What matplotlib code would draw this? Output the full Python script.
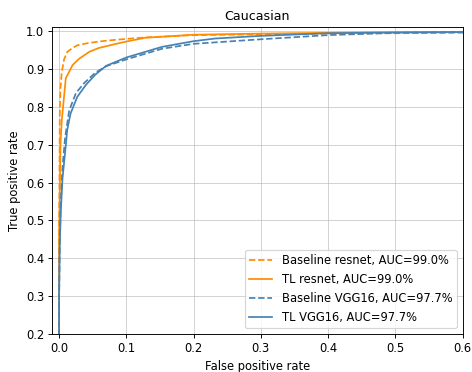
import numpy as np
import matplotlib
matplotlib.use("Agg")
import matplotlib.pyplot as plt

# ROC points
fprBaseResnet = [0, 0, 0.001, 0.002, 0.004, 0.0074, 0.0123, 0.02, 0.027, 0.04, 0.059, 0.08, 0.1, 0.13, 0.2, 0.3, 0.4, 0.6, 1.0]
tprBaseResnet = [0, 0.45, 0.78, 0.85, 0.892, 0.925, 0.945, 0.955, 0.962, 0.967, 0.972, 0.976, 0.979, 0.983, 0.989, 0.991, 0.993, 0.995, 1.0]

fprTLResnet = [0, 0, 0.002, 0.004, 0.005, 0.0099, 0.02, 0.03, 0.045, 0.059, 0.08, 0.1, 0.128, 0.2, 0.3, 0.45, 0.6, 1.0]
tprTLResnet = [0, 0.45, 0.7, 0.765, 0.783, 0.875, 0.91, 0.927, 0.945, 0.955, 0.964, 0.972, 0.982, 0.99, 0.993, 0.996, 0.997, 1.0]

fprBaseVGG = [0, 0, 0.001, 0.0025, 0.005, 0.009, 0.015, 0.025, 0.037, 0.054, 0.07, 0.1, 0.153, 0.2, 0.3, 0.4, 0.5, 0.6, 1.0]
tprBaseVGG = [0, 0.3, 0.45, 0.55, 0.64, 0.72, 0.79, 0.836, 0.862, 0.89, 0.907, 0.925, 0.953, 0.966, 0.978, 0.989, 0.995, 0.997, 1.0]

fprTLVGG = [0, 0, 0.001, 0.0025, 0.005, 0.01, 0.012, 0.017, 0.027, 0.04, 0.054, 0.07, 0.1, 0.153, 0.2, 0.232, 0.3, 0.4, 0.5, 0.6, 1.0]
tprTLVGG = [0, 0.3, 0.435, 0.523, 0.61, 0.699, 0.738, 0.782, 0.826, 0.858, 0.885, 0.908, 0.93, 0.958, 0.973, 0.98, 0.987, 0.994, 0.996, 0.997, 1.0]

labels = ["Baseline resnet, AUC=99.0%", "TL resnet, AUC=99.0%",
          "Baseline VGG16, AUC=97.7%", "TL VGG16, AUC=97.7%"]

dpi = 83
fig = plt.figure(figsize=(472 / dpi, 372 / dpi), dpi=dpi)
ax = fig.add_axes([0.111, 0.102, 0.869, 0.825])

ax.plot(fprBaseResnet, tprBaseResnet, '--', color='darkorange', label=labels[0])
ax.plot(fprTLResnet, tprTLResnet, '-', color='darkorange', label=labels[1])
ax.plot(fprBaseVGG, tprBaseVGG, '--', color='steelblue', label=labels[2])
ax.plot(fprTLVGG, tprTLVGG, '-', color='steelblue', label=labels[3])

ax.set_xlim(-0.01, 0.6)
ax.set_ylim(0.2, 1.01)
ax.set_xlabel("False positive rate")
ax.set_ylabel("True positive rate")
ax.set_title("Caucasian", fontsize=11)
ax.grid(True, alpha=0.6)
ax.legend(loc='lower right')

fig.savefig("out.png", dpi=dpi)
